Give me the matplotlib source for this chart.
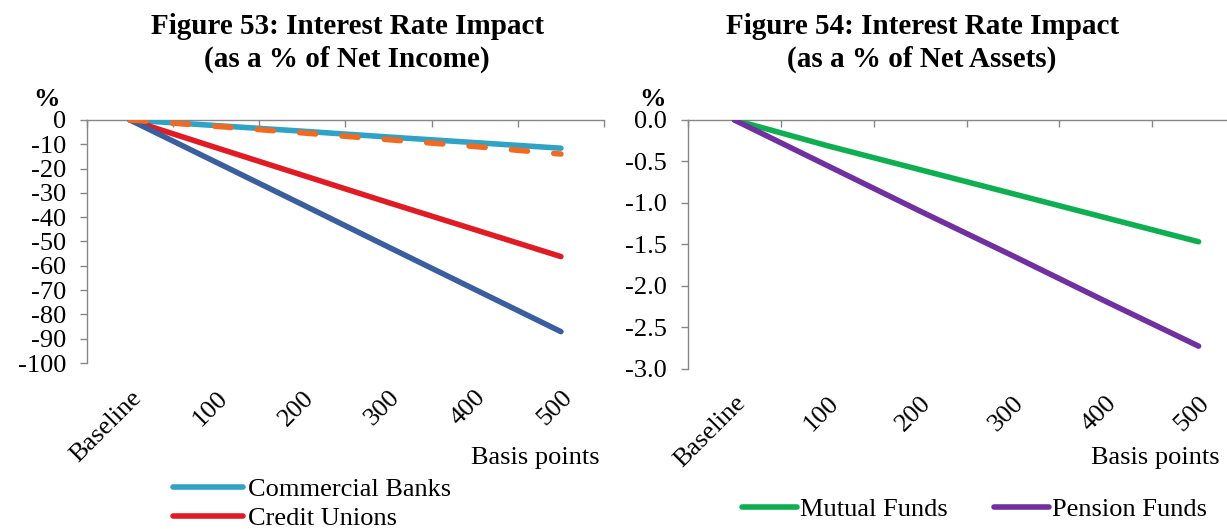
import numpy as np
import matplotlib
matplotlib.use('Agg')
import matplotlib.pyplot as plt
from matplotlib.ticker import FormatStrFormatter, MultipleLocator

plt.rcParams['font.family'] = 'Liberation Serif'
plt.rcParams['axes.unicode_minus'] = False

# Data
categories = ['Baseline', '100', '200', '300', '400', '500']

commercial_banks = [0, -2.3, -4.6, -7.0, -9.3, -11.6]
credit_unions = [0, -11.4, -22.7, -34.0, -45.1, -56.2]
blue_series = [0, -17.4, -34.8, -52.3, -69.7, -87.1]
orange_series = [0, -2.6, -5.3, -8.1, -10.9, -14.0]

mutual_funds = [0, -0.31, -0.60, -0.89, -1.18, -1.47]
pension_funds = [0, -0.55, -1.10, -1.64, -2.19, -2.73]

W, H = 1227, 529
gray = '#878787'
fs = 19

fig = plt.figure(figsize=(W / 100, H / 100), dpi=100)


def px(x, y):
    return x / W, 1 - y / H


def style_axes(ax, ymin, ystep, fmt):
    x = np.arange(len(categories))
    ax.set_xlim(-0.5, len(categories) - 0.5)
    ax.set_ylim(ymin, 0)
    ax.yaxis.set_major_locator(MultipleLocator(ystep))
    ax.yaxis.set_major_formatter(FormatStrFormatter(fmt))
    for s in ['bottom', 'right']:
        ax.spines[s].set_visible(False)
    for s in ['top', 'left']:
        ax.spines[s].set_color(gray)
        ax.spines[s].set_linewidth(1.0)
    ax.set_xticks(x)
    ax.set_xticklabels(categories, rotation=45, ha='right', va='top',
                       rotation_mode='anchor', fontsize=fs)
    ax.set_xticks(np.arange(-0.5, len(categories), 1), minor=True)
    ax.tick_params(axis='x', which='major', length=0, pad=17)
    ax.tick_params(axis='x', which='minor', top=True, bottom=False,
                   direction='in', length=5, color=gray, width=1.0)
    ax.tick_params(axis='y', which='major', direction='out', length=5,
                   color=gray, width=1.0, labelsize=fs, pad=10)
    ax.patch.set_visible(False)


lw = 4.0

# Figure 53
ax1 = fig.add_axes([87 / W, 1 - 363 / H, 517 / W, 243 / H])
x = np.arange(len(categories))
l_cb, = ax1.plot(x, commercial_banks, color='#2FA3C6', lw=lw, solid_capstyle='round',
                 label='Commercial Banks', zorder=3)
l_cu, = ax1.plot(x, credit_unions, color='#E01B24', lw=lw, solid_capstyle='round',
                 label='Credit Unions', zorder=3)
ax1.plot(x, blue_series, color='#3A5E9E', lw=lw, solid_capstyle='round', zorder=3)
ax1.plot(x, orange_series, color='#F26A21', lw=lw, linestyle=(0, (2.9, 4.75)),
         dash_capstyle='round', zorder=4)
style_axes(ax1, -100, 10, '%d')

# Figure 54
ax2 = fig.add_axes([688 / W, 1 - 368.5 / H, 557 / W, 248.5 / H])
l_mf, = ax2.plot(x, mutual_funds, color='#0DAF50', lw=lw, solid_capstyle='round',
                 label='Mutual Funds', zorder=3)
l_pf, = ax2.plot(x, pension_funds, color='#7030A0', lw=lw, solid_capstyle='round',
                 label='Pension Funds', zorder=3)
style_axes(ax2, -3.0, 0.5, '%.1f')

# Titles
fig.text(*px(347, 43), 'Figure 53: Interest Rate Impact\n(as a % of Net Income)',
         ha='center', va='center', fontsize=21, fontweight='bold', linespacing=1.25)
fig.text(*px(922, 43), 'Figure 54: Interest Rate Impact\n(as a % of Net Assets)',
         ha='center', va='center', fontsize=21, fontweight='bold', linespacing=1.25)

# Axis labels
fig.text(*px(46, 100), '%', ha='center', va='center', fontsize=fs, fontweight='bold')
fig.text(*px(653, 100), '%', ha='center', va='center', fontsize=fs, fontweight='bold')
fig.text(*px(600, 458), 'Basis points', ha='right', va='center', fontsize=fs)
fig.text(*px(1220, 458), 'Basis points', ha='right', va='center', fontsize=fs)

# Legends
fig.legend(handles=[l_cb, l_cu], loc='upper left', bbox_to_anchor=px(173, 478),
           frameon=False, fontsize=fs, borderpad=0, borderaxespad=0,
           handlelength=2.65, handletextpad=0.2, labelspacing=0.2)
fig.legend(handles=[l_mf, l_pf], loc='upper left', bbox_to_anchor=px(742, 498),
           frameon=False, fontsize=fs, ncol=2, borderpad=0, borderaxespad=0,
           handlelength=2.1, handletextpad=0.1, columnspacing=1.75)

fig.savefig('out.png', dpi=100)
